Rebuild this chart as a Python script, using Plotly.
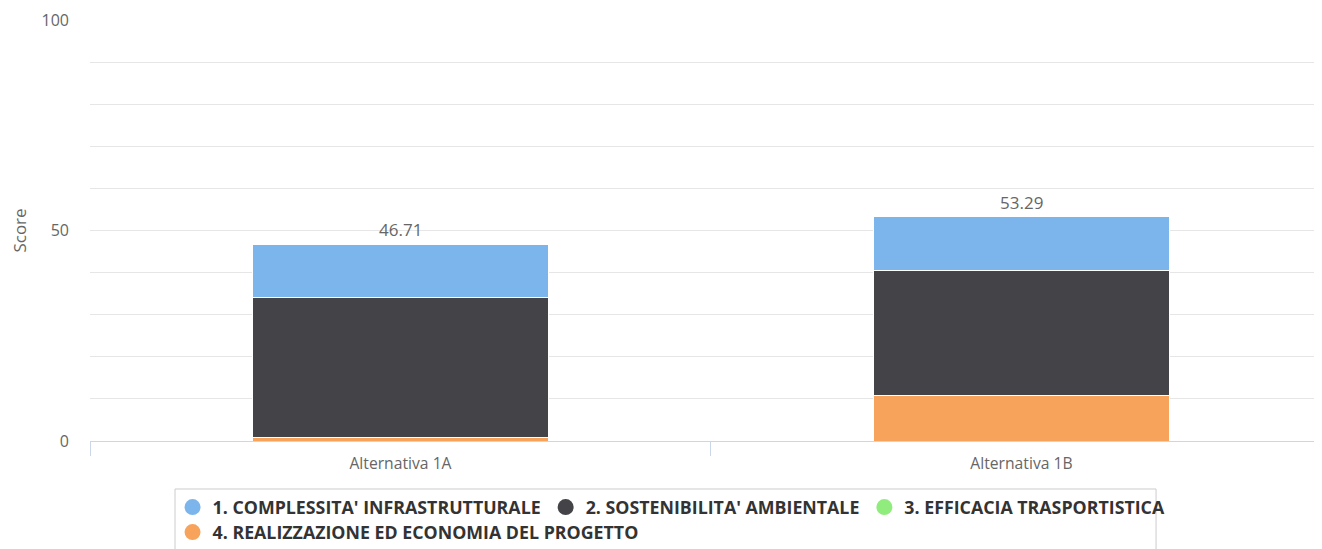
import plotly.graph_objects as go

categories = ["Alternativa 1A", "Alternativa 1B"]
series_names = [
    "1. COMPLESSITA' INFRASTRUTTURALE",
    "2. SOSTENIBILITA' AMBIENTALE",
    "3. EFFICACIA TRASPORTISTICA",
    "4. REALIZZAZIONE ED ECONOMIA DEL PROGETTO",
]
infrastrutturale = [12.61, 12.79]
ambientale = [33.3, 29.7]
trasportistica = [0.0, 0.0]
realizzazione = [0.8, 10.8]
totals = [46.71, 53.29]
colors = ["#7cb5ec", "#434348", "#90ed7d", "#f7a35c"]
legend_rows = ["legend", "legend", "legend", "legend2"]

fig = go.Figure()
# stack order: bottom first (Highcharts stacks later series lower)
stack = [
    (series_names[3], realizzazione, colors[3]),
    (series_names[2], trasportistica, colors[2]),
    (series_names[1], ambientale, colors[1]),
    (series_names[0], infrastrutturale, colors[0]),
]
for name, vals, col in stack:
    fig.add_trace(go.Bar(
        x=categories, y=vals, name=name, showlegend=False,
        marker=dict(color=col, line=dict(color="#ffffff", width=1)),
        width=0.478, hoverinfo="y+name",
    ))

# legend entries with circle symbols
for name, col, lg in zip(series_names, colors, legend_rows):
    fig.add_trace(go.Scatter(
        x=[None], y=[None], mode="markers", name=name, legend=lg,
        marker=dict(color=col, size=16, symbol="circle"),
    ))

for cat, tot in zip(categories, totals):
    fig.add_annotation(
        x=cat, y=tot, text=f"{tot:.2f}", showarrow=False,
        yanchor="bottom", yshift=1,
        font=dict(family="Open Sans", size=17, color="#666666"),
    )

legend_font = dict(family="Open Sans", size=17.8, color="#333333", weight="bold")

# legend frame
fig.add_shape(
    type="rect", xref="paper", yref="paper",
    x0=0.069, x1=0.8653, y0=-0.114, y1=-0.30,
    line=dict(color="#cccccc", width=1), fillcolor="rgba(0,0,0,0)",
)

# page body has an 8px margin: shift margins to compensate
fig.update_layout(
    width=1314, height=541,
    margin=dict(l=82, r=0, t=12, b=108, autoexpand=False),
    barmode="stack",
    paper_bgcolor="#ffffff", plot_bgcolor="#ffffff",
    font=dict(family="Open Sans", size=14, color="#666666"),
    showlegend=True,
    legend=dict(
        orientation="h", x=0.067, xanchor="left", y=-0.114, yanchor="top",
        borderwidth=0, bgcolor="rgba(0,0,0,0)",
        font=legend_font, itemsizing="trace", traceorder="normal",
    ),
    legend2=dict(
        orientation="h", x=0.067, xanchor="left", y=-0.1734, yanchor="top",
        borderwidth=0, bgcolor="rgba(0,0,0,0)",
        font=legend_font, itemsizing="trace", traceorder="normal",
    ),
    xaxis=dict(
        range=[-0.5, 1.484], showgrid=False, showline=True,
        linecolor="#ccd6eb", linewidth=1,
        ticks="outside", tickson="boundaries", ticklen=14, tickcolor="#ccd6eb",
        tickfont=dict(size=15.7, color="#666666"), ticklabelstandoff=8,
    ),
    yaxis=dict(
        range=[0, 100], tickvals=[0, 50, 100], showgrid=True,
        gridcolor="#e6e6e6", zeroline=False, showline=False,
        minor=dict(dtick=10, showgrid=True, gridcolor="#e6e6e6"),
        title=dict(text="Score", font=dict(size=17, color="#666666"), standoff=18),
        tickfont=dict(size=16, color="#666666"), ticklabelstandoff=20,
    ),
)

fig.write_html("out.html")
